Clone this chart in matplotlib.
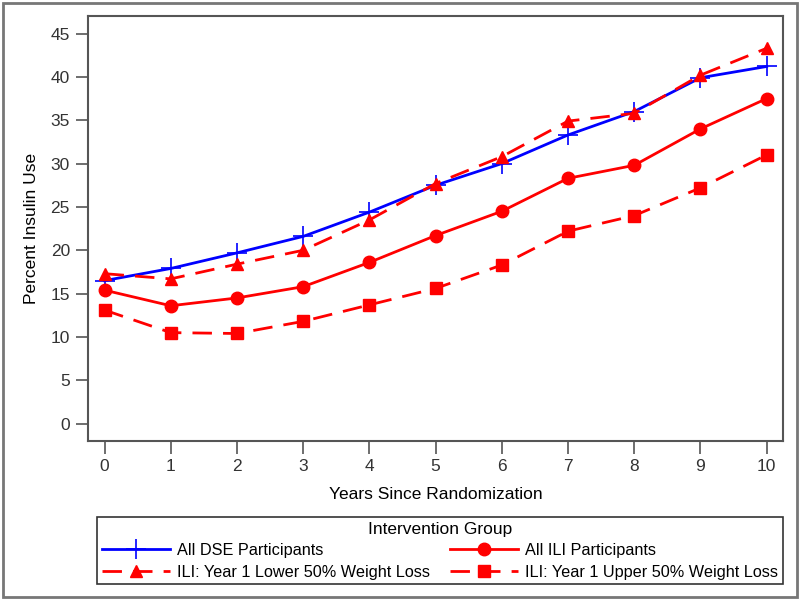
import matplotlib
matplotlib.use("Agg")
import matplotlib.pyplot as plt
from matplotlib.patches import Rectangle

plt.rcParams["font.family"] = ["Liberation Sans", "DejaVu Sans"]

years = [0, 1, 2, 3, 4, 5, 6, 7, 8, 9, 10]
dse_all = [16.5, 17.9, 19.7, 21.6, 24.4, 27.5, 30.0, 33.3, 36.0, 39.9, 41.2]
ili_all = [15.4, 13.6, 14.5, 15.8, 18.6, 21.7, 24.5, 28.3, 29.8, 34.0, 37.5]
ili_lower = [17.3, 16.7, 18.4, 20.0, 23.5, 27.7, 30.8, 34.9, 35.8, 40.2, 43.3]
ili_upper = [13.1, 10.5, 10.4, 11.8, 13.7, 15.6, 18.3, 22.2, 24.0, 27.2, 31.0]
yticks = [0, 5, 10, 15, 20, 25, 30, 35, 40, 45]

blue = "#0000ff"
red = "#ff0000"
dash = (0, (7, 4))

fig = plt.figure(figsize=(8, 6), dpi=100)
ax = fig.add_axes([0.11, 0.265, 0.869, 0.708])

h_dse, = ax.plot(years, dse_all, color=blue, lw=2, marker="+", ms=15, mew=1.2,
                 label="All DSE Participants")
h_low, = ax.plot(years, ili_lower, color=red, lw=2, ls=dash, marker="^", ms=9,
                 label="ILI: Year 1 Lower 50% Weight Loss")
h_ili, = ax.plot(years, ili_all, color=red, lw=2, marker="o", ms=9,
                 label="All ILI Participants")
h_up, = ax.plot(years, ili_upper, color=red, lw=2, ls=dash, marker="s", ms=8,
                label="ILI: Year 1 Upper 50% Weight Loss")

ax.set_xlim(-0.25, 10.25)
ax.set_ylim(-2, 47)
ax.set_xticks(years)
ax.set_yticks(yticks)
ax.tick_params(labelsize=12.5, color="#555555", labelcolor="#333333",
               length=9, width=1.2, pad=4)
for s in ax.spines.values():
    s.set_color("#555555")
    s.set_linewidth(1.5)
ax.set_xlabel("Years Since Randomization", fontsize=12.5, labelpad=9)
ax.set_ylabel("Percent Insulin Use", fontsize=12.5, labelpad=8)

leg = fig.legend(handles=[h_dse, h_low, h_ili, h_up], ncol=2, mode="expand",
                 loc="lower left", bbox_to_anchor=(0.121, 0.026, 0.858, 0.1),
                 title="Intervention Group", title_fontsize=12.5, fontsize=11.7,
                 frameon=True, fancybox=False, edgecolor="black", borderpad=0.3,
                 handlelength=4.2, handletextpad=0.45, labelspacing=0.4,
                 columnspacing=0.9, borderaxespad=0)
leg.get_frame().set_linewidth(1.2)

fig.patches.append(Rectangle((0.004, 0.005), 0.992, 0.99, transform=fig.transFigure,
                             fill=False, edgecolor="#777777", lw=2))

fig.savefig("out.png", dpi=100)
